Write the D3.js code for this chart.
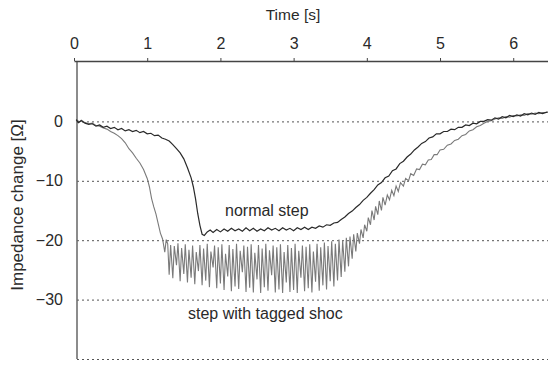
<!DOCTYPE html>
<html>
<head>
<meta charset="utf-8">
<script src="https://cdn.jsdelivr.net/npm/d3@7"></script>
<style>
  body { margin: 0; background: #fff; }
  text { font-family: "Liberation Sans", Arial, sans-serif; fill: #2a2a2a; }
</style>
</head>
<body>
<svg id="chart"></svg>
<script>
// time ticks (s) and impedance ticks (Ohm)
const timeTicks = [0, 1, 2, 3, 4, 5, 6];
const impTicks = [0, -10, -20, -30, -40];

// normal step: [time s, impedance change Ohm]
const normalStep = [
  [0.03, 0.3], [0.06, -0.2], [0.10, 0.1], [0.15, -0.3], [0.20, -0.5], [0.25, -0.4], [0.30, -0.8],
  [0.35, -0.6], [0.40, -1.0], [0.45, -0.8], [0.50, -1.2], [0.55, -1.0], [0.60, -1.4], [0.65, -1.2],
  [0.70, -1.6], [0.75, -1.4], [0.80, -1.7], [0.85, -1.5], [0.90, -1.9], [0.95, -1.7], [1.00, -2.1],
  [1.05, -2.0], [1.10, -2.4], [1.15, -2.3], [1.20, -2.8], [1.25, -3.0], [1.30, -3.3], [1.35, -3.9],
  [1.40, -4.6], [1.45, -5.3], [1.50, -6.3], [1.55, -7.8], [1.60, -9.5], [1.63, -11.0], [1.66, -13.0],
  [1.69, -15.5], [1.72, -17.5], [1.75, -19.0], [1.78, -19.2], [1.82, -18.6], [1.86, -18.3], [1.90, -18.7],
  [1.95, -18.2], [2.00, -18.6], [2.05, -18.1], [2.10, -18.5], [2.15, -18.0], [2.20, -18.4], [2.25, -18.1],
  [2.30, -18.5], [2.35, -17.9], [2.40, -18.4], [2.45, -18.0], [2.50, -18.5], [2.55, -18.1], [2.60, -18.4],
  [2.65, -17.9], [2.70, -18.3], [2.75, -18.0], [2.80, -18.4], [2.85, -17.9], [2.90, -18.3], [2.95, -18.0],
  [3.00, -18.4], [3.05, -17.9], [3.10, -18.2], [3.15, -17.8], [3.20, -18.2], [3.25, -17.8], [3.30, -18.0],
  [3.35, -17.6], [3.40, -17.8], [3.45, -17.4], [3.50, -17.5], [3.55, -17.1], [3.60, -17.0], [3.65, -16.5],
  [3.70, -16.1], [3.75, -15.5], [3.80, -15.1], [3.85, -14.5], [3.90, -14.0], [3.95, -13.3], [4.00, -12.8],
  [4.05, -12.1], [4.10, -11.5], [4.15, -10.7], [4.20, -10.3], [4.25, -9.5], [4.30, -9.2], [4.35, -8.3],
  [4.40, -8.0], [4.45, -7.1], [4.50, -6.7], [4.55, -6.0], [4.60, -5.5], [4.65, -4.8], [4.70, -4.3],
  [4.75, -3.7], [4.80, -3.4], [4.85, -2.8], [4.90, -2.6], [4.95, -2.1], [5.00, -2.1], [5.05, -1.7],
  [5.10, -1.7], [5.15, -1.3], [5.20, -1.4], [5.25, -1.0], [5.30, -1.0], [5.35, -0.6], [5.40, -0.7],
  [5.45, -0.3], [5.50, -0.4], [5.55, 0.0], [5.60, 0.0], [5.65, 0.3], [5.70, 0.2], [5.75, 0.6],
  [5.80, 0.4], [5.85, 0.8], [5.90, 0.6], [5.95, 1.0], [6.00, 0.8], [6.05, 1.1], [6.10, 0.9],
  [6.15, 1.3], [6.20, 1.1], [6.25, 1.4], [6.30, 1.2], [6.35, 1.5], [6.40, 1.3], [6.47, 1.6]
];

// step with tagged shoe: [time s, impedance change Ohm]
const taggedStep = [
  [0.03, 0.4], [0.07, -0.1], [0.10, 0.2], [0.15, -0.2], [0.20, -0.4], [0.25, -0.3], [0.30, -0.7],
  [0.35, -0.8], [0.40, -1.1], [0.45, -1.3], [0.50, -1.7], [0.55, -2.0], [0.60, -2.4], [0.65, -2.9],
  [0.70, -3.6], [0.75, -4.6], [0.80, -5.3], [0.85, -6.2], [0.90, -7.0], [0.95, -8.1], [1.00, -9.6],
  [1.03, -11.0], [1.06, -13.0], [1.09, -14.4], [1.12, -15.6], [1.15, -17.2], [1.18, -18.8], [1.21, -19.8],
  [1.24, -22.0], [1.26, -19.9],
  [1.28, -20.6], [1.30, -25.8], [1.32, -20.8], [1.35, -26.4], [1.37, -21.0], [1.40, -24.2], [1.42, -20.5],
  [1.45, -26.9], [1.47, -21.3], [1.50, -25.7], [1.52, -20.7], [1.55, -27.1], [1.57, -21.6], [1.60, -26.3],
  [1.62, -20.9], [1.65, -27.4], [1.67, -22.0], [1.70, -25.2], [1.72, -20.8], [1.75, -27.6], [1.77, -21.4],
  [1.80, -26.8], [1.82, -20.6], [1.85, -27.9], [1.87, -21.9], [1.90, -24.6], [1.92, -20.9], [1.95, -28.1],
  [1.97, -21.2], [2.00, -27.3], [2.02, -20.7], [2.05, -28.4], [2.07, -22.3], [2.10, -26.1], [2.12, -20.8],
  [2.15, -28.6], [2.17, -21.5], [2.20, -27.8], [2.22, -20.6], [2.25, -28.2], [2.27, -21.8], [2.30, -25.4],
  [2.32, -20.9], [2.35, -28.7], [2.37, -21.1], [2.40, -28.0], [2.42, -20.7], [2.45, -28.8], [2.47, -22.1],
  [2.50, -26.6], [2.52, -20.8], [2.55, -28.9], [2.57, -21.4], [2.60, -27.9], [2.62, -20.6], [2.65, -28.5],
  [2.67, -21.7], [2.70, -25.9], [2.72, -20.9], [2.75, -28.8], [2.77, -21.2], [2.80, -28.3], [2.82, -20.7],
  [2.85, -28.9], [2.87, -22.0], [2.90, -27.1], [2.92, -20.8], [2.95, -28.7], [2.97, -21.3], [3.00, -28.4],
  [3.02, -20.6], [3.05, -28.9], [3.07, -21.8], [3.10, -26.3], [3.12, -20.9], [3.15, -28.6], [3.17, -21.1],
  [3.20, -28.1], [3.22, -20.7], [3.25, -28.8], [3.27, -21.9], [3.30, -27.0], [3.32, -20.6], [3.35, -28.5],
  [3.37, -21.2], [3.40, -27.6], [3.42, -20.4], [3.45, -28.3], [3.47, -21.0], [3.50, -26.9], [3.52, -20.2],
  [3.55, -27.8], [3.57, -20.6], [3.60, -26.8], [3.62, -19.9], [3.65, -26.2], [3.67, -20.1], [3.70, -25.3],
  [3.72, -19.6], [3.75, -24.4], [3.77, -19.4], [3.80, -23.1], [3.82, -19.0], [3.85, -21.9], [3.87, -18.8],
  [3.90, -20.6], [3.92, -18.2], [3.95, -19.6], [3.97, -17.4], [4.00, -18.5], [4.02, -16.2], [4.05, -17.4],
  [4.07, -15.0], [4.10, -16.6], [4.12, -14.3], [4.15, -15.7], [4.17, -13.4], [4.20, -15.0], [4.22, -12.8],
  [4.25, -14.1], [4.28, -12.4], [4.31, -13.2], [4.34, -11.6], [4.37, -12.5], [4.40, -10.9], [4.43, -11.8],
  [4.46, -10.3], [4.50, -10.9], [4.53, -9.6], [4.57, -10.0], [4.60, -8.8], [4.64, -9.1], [4.68, -8.0],
  [4.72, -8.1], [4.76, -7.2], [4.80, -7.3], [4.84, -6.5], [4.88, -6.4], [4.92, -5.6], [4.96, -5.6],
  [5.00, -4.8], [5.05, -4.7], [5.10, -4.0], [5.15, -3.8], [5.20, -3.2], [5.25, -3.0], [5.30, -2.4],
  [5.35, -2.2], [5.40, -1.6], [5.45, -1.4], [5.50, -0.9], [5.55, -0.7], [5.60, -0.3], [5.65, 0.0],
  [5.70, 0.1], [5.75, 0.4], [5.80, 0.6], [5.85, 0.5], [5.90, 0.8], [5.95, 0.7], [6.00, 1.0],
  [6.05, 0.9], [6.10, 1.1], [6.15, 1.0], [6.20, 1.3], [6.25, 1.2], [6.30, 1.4], [6.35, 1.3], [6.40, 1.5], [6.47, 1.5]
];

const width = 548;
const height = 365;
const axisTopY = 61;
const leftX = 77;

const svg = d3.select('#chart')
  .attr('width', width)
  .attr('height', height)
  .style('background', '#fff');

const x = d3.scaleLinear().domain([0, 6.475]).range([74, 548]);
const y = d3.scaleLinear().domain([-40, 10]).range([359, 62]);

// dotted grid lines
svg.append('g')
  .attr('transform', `translate(${leftX},0)`)
  .call(d3.axisRight(y).tickValues(impTicks).tickSize(width - leftX).tickFormat(''))
  .call(g => g.select('.domain').remove())
  .selectAll('line')
  .attr('stroke', '#555')
  .attr('stroke-width', 1)
  .attr('stroke-dasharray', '2,3');

// left axis with labels
svg.append('g')
  .attr('transform', `translate(${leftX},0)`)
  .call(d3.axisLeft(y).tickValues(impTicks.slice(0, 4)).tickSize(0).tickPadding(14))
  .call(g => g.select('.domain').remove())
  .selectAll('text')
  .style('font-size', '16px')
  .style('font-family', '"Liberation Sans", Arial, sans-serif')
  .attr('fill', '#2a2a2a');

svg.append('line')
  .attr('x1', leftX).attr('x2', leftX)
  .attr('y1', axisTopY).attr('y2', y(-40))
  .attr('stroke', '#666')
  .attr('stroke-width', 1.5);

// top time axis
const timeAxis = svg.append('g')
  .attr('transform', `translate(0,${axisTopY})`)
  .call(d3.axisTop(x).tickValues(timeTicks).tickSize(3).tickSizeOuter(0).tickPadding(9).tickFormat(d3.format('d')));
timeAxis.select('.domain').attr('stroke', '#444').attr('stroke-width', 1.5);
timeAxis.selectAll('line').attr('stroke', '#444');
timeAxis.selectAll('text')
  .style('font-size', '16px')
  .style('font-family', '"Liberation Sans", Arial, sans-serif')
  .attr('fill', '#2a2a2a');

svg.append('text')
  .attr('x', 293)
  .attr('y', 20)
  .attr('text-anchor', 'middle')
  .style('font-size', '15.5px')
  .text('Time [s]');

svg.append('text')
  .attr('transform', 'translate(23,205) rotate(-90)')
  .attr('text-anchor', 'middle')
  .style('font-size', '17px')
  .text('Impedance change [Ω]');

const line = d3.line()
  .x(d => x(d[0]))
  .y(d => y(d[1]));

svg.append('path')
  .datum(taggedStep)
  .attr('d', line)
  .attr('fill', 'none')
  .attr('stroke', '#7a7a7a')
  .attr('stroke-width', 1.1);

svg.append('path')
  .datum(normalStep)
  .attr('d', line)
  .attr('fill', 'none')
  .attr('stroke', '#2a2a2a')
  .attr('stroke-width', 1.2);

svg.append('text')
  .attr('x', 225)
  .attr('y', 216)
  .style('font-size', '16px')
  .text('normal step');

svg.append('text')
  .attr('x', 188)
  .attr('y', 319)
  .style('font-size', '16px')
  .text('step with tagged shoc');
</script>
</body>
</html>
